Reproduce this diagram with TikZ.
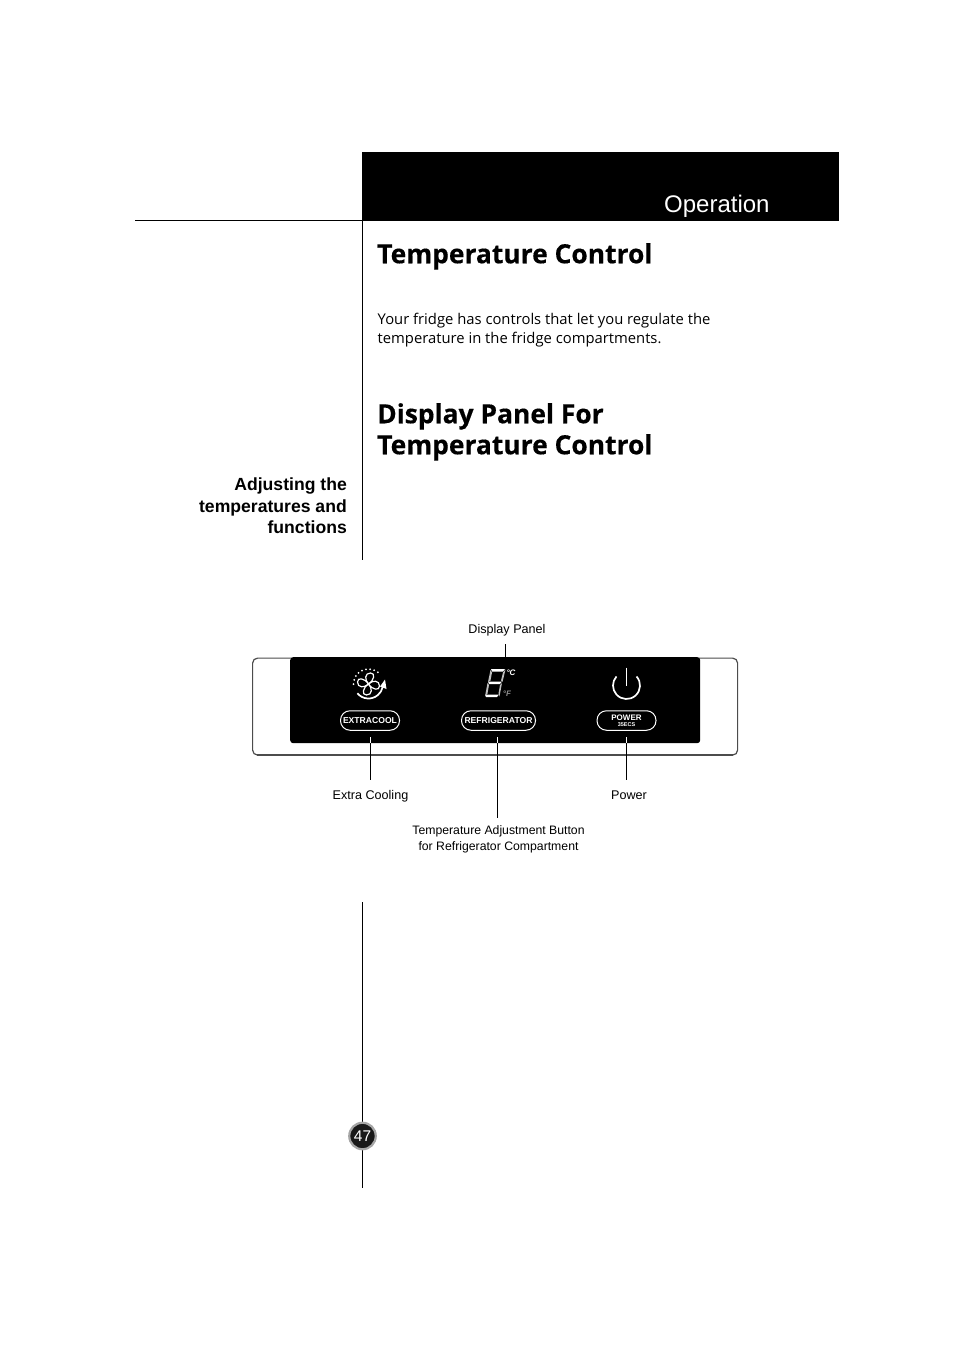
\documentclass[tikz,border=0pt]{standalone}
\usepackage{fontspec}
\setmainfont{Liberation Sans}
\newfontfamily\headfont[BoldFeatures={FakeBold=0.4}]{Open Sans}
\usetikzlibrary{arrows.meta, positioning, calc}
\tikzset{
    heading/.style={font=\headfont\bfseries\fontsize{26.4}{31}\selectfont, anchor=north west, inner sep=0pt, align=left},
    bodytext/.style={font=\headfont\fontsize{14.8}{19.2}\selectfont, anchor=north west, inner sep=0pt, align=left},
    sidetext/.style={font=\bfseries\fontsize{17.6}{21.5}\selectfont, anchor=north east, inner sep=0pt, align=right},
    label_text/.style={font=\fontsize{12.6}{16}\selectfont, inner sep=0pt, align=center},
    button/.style={draw=white, line width=1pt, rounded corners=9.5pt, fill=black, text=white, minimum height=19.5pt, inner sep=0pt, align=center, font=\bfseries\fontsize{8.6}{8.6}\selectfont},
    leader/.style={draw=black, line width=0.8pt},
    rule/.style={draw=black, line width=0.9pt},
    icon/.style={draw=white, line width=1.7pt}
}
\begin{document}
\begin{tikzpicture}[x=1pt, y=-1pt]
    \useasboundingbox (0,0) rectangle (954,1351);
    % page header
    \node (bar) [fill=black, minimum width=477pt, minimum height=69pt, inner sep=0pt, anchor=north west] at (362,152) {};
    \node (operation) [font=\fontsize{24}{24}\selectfont, anchor=base west, inner sep=0pt, text=white] at (664,212) {Operation};
    \coordinate (ruleleft) at (135,220.5);
    \coordinate (ruleright) at (839,220.5);
    \draw [rule] (ruleleft) -- (ruleright);
    \coordinate (spinea) at (362.5,221);
    \coordinate (spineb) at (362.5,560);
    \coordinate (spinec) at (362.5,902);
    \coordinate (spined) at (362.5,1188);
    \draw [rule] (spinea) -- (spineb);
    \draw [rule] (spinec) -- (spined);

    % text
    \node (title) [heading] at (377,243) {Temperature Control};
    \node (intro) [bodytext] at (377.5,313) {Your fridge has controls that let you regulate the\\temperature in the fridge compartments.};
    \node (subtitle) [heading] at (377,403) {Display Panel For\\Temperature Control};
    \node (side) [sidetext] at (347,478) {Adjusting the\\temperatures and\\functions};

    % panel
    \node (frame) [draw=black!70, line width=1.2pt, rounded corners=5pt, minimum width=485pt, minimum height=97pt, inner sep=0pt, anchor=north west] at (252,657.5) {};
    \draw [draw=black!70, line width=2pt] ($(frame.south west)+(5,-0.5)$) -- ($(frame.south east)+(-5,-0.5)$);
    \node (panel) [fill=black, rounded corners=3pt, minimum width=410pt, minimum height=86pt, inner sep=0pt, anchor=north west] at (290,657) {};
    \node (extracool) [button, minimum width=59pt] at (370,720.5) {EXTRACOOL};
    \node (refrigerator) [button, minimum width=74pt] at (498.5,720.5) {REFRIGERATOR};
    \node (power) [button, minimum width=59pt, font=\bfseries\fontsize{8}{6.5}\selectfont] at (626.5,720.5) {POWER\\[0pt]{\fontsize{5.5}{5.5}\selectfont 35ECS}};

    % fan icon
    \coordinate (fan) at (368.5,684);
    \draw [icon, line width=2pt, line cap=round, dash pattern=on 0pt off 4.2pt] (fan) ++(-180:15) arc (-180:-50:15);
    \draw [icon] (fan) ++(140:14.5) arc (140:12:14.5);
    \fill [white] (385,679.5) -- (386.5,689) -- (380,686.5) -- cycle;
    \foreach \a in {0,90,180,270} {
        \draw [draw=white, line width=1.2pt, rotate around={\a:(fan)}] (fan) .. controls ($(fan)+(-4,-4)$) and ($(fan)+(-4,-11)$) .. ($(fan)+(2,-11)$) .. controls ($(fan)+(7,-11)$) and ($(fan)+(6,-4)$) .. (fan);
    }

    % digit icon
    \foreach \p/\q in {491/669, 488/681.5, 485/694.5} {
        \fill [white] (\p,\q) -- (\p+14,\q) -- (\p+12,\q+2.5) -- (\p+1,\q+2.5) -- cycle;
    }
    \fill [white!75!black] (490.5,670) -- (492,672.5) -- (490.5,680.5) -- (488,682) -- cycle;
    \fill [white!75!black] (487.5,683) -- (489,685) -- (487.5,693.5) -- (485,696.5) -- cycle;
    \fill [white!75!black] (505.5,669.5) -- (503,672.5) -- (501,680.5) -- (502.5,682) -- cycle;
    \fill [white!75!black] (502,683) -- (500,685) -- (498.5,693.5) -- (499.5,696.5) -- cycle;
    \node (celsius) [text=white, font=\bfseries\itshape\fontsize{8}{8}\selectfont, inner sep=0pt] at (511,673) {°C};
    \node (fahrenheit) [text=white!55!black, font=\bfseries\itshape\fontsize{8}{8}\selectfont, inner sep=0pt] at (507,694) {°F};

    % power icon
    \draw [icon] (626.5,685.5) ++(-42:13.5) arc (-42:222:13.5);
    \draw [icon] (626.5,667.5) -- (626.5,685.5);

    % page number
    \node (pagenum) [circle, fill=black!90, draw=black!35, line width=2.2pt, minimum size=26.5pt, inner sep=0pt, text=white, font=\fontsize{15.5}{15.5}\selectfont] at (362.5,1136) {47};

    % labels
    \node (lbl_display) [label_text] at (507,630) {Display Panel};
    \node (lbl_extra) [label_text] at (370.5,796) {Extra Cooling};
    \node (lbl_power) [label_text] at (629,795) {Power};
    \node (lbl_temp) [label_text, font=\fontsize{12.25}{16}\selectfont] at (498.5,839) {Temperature Adjustment Button\\for Refrigerator Compartment};

    \coordinate (displaytop) at (505.5,644);
    \coordinate (extratop) at (370.5,737);
    \coordinate (extraend) at (370.5,780);
    \coordinate (temptop) at (497.5,737);
    \coordinate (tempend) at (497.5,818);
    \coordinate (powertop) at (626.5,737);
    \coordinate (powerend) at (626.5,780);
    \draw [leader] (displaytop) -- (panel.north -| displaytop);
    \draw [leader, draw=white] (extratop) -- (panel.south -| extratop);
    \draw [leader] (panel.south -| extratop) -- (extraend);
    \draw [leader, draw=white] (temptop) -- (panel.south -| temptop);
    \draw [leader] (panel.south -| temptop) -- (tempend);
    \draw [leader, draw=white] (powertop) -- (panel.south -| powertop);
    \draw [leader] (panel.south -| powertop) -- (powerend);
\end{tikzpicture}
\end{document}
